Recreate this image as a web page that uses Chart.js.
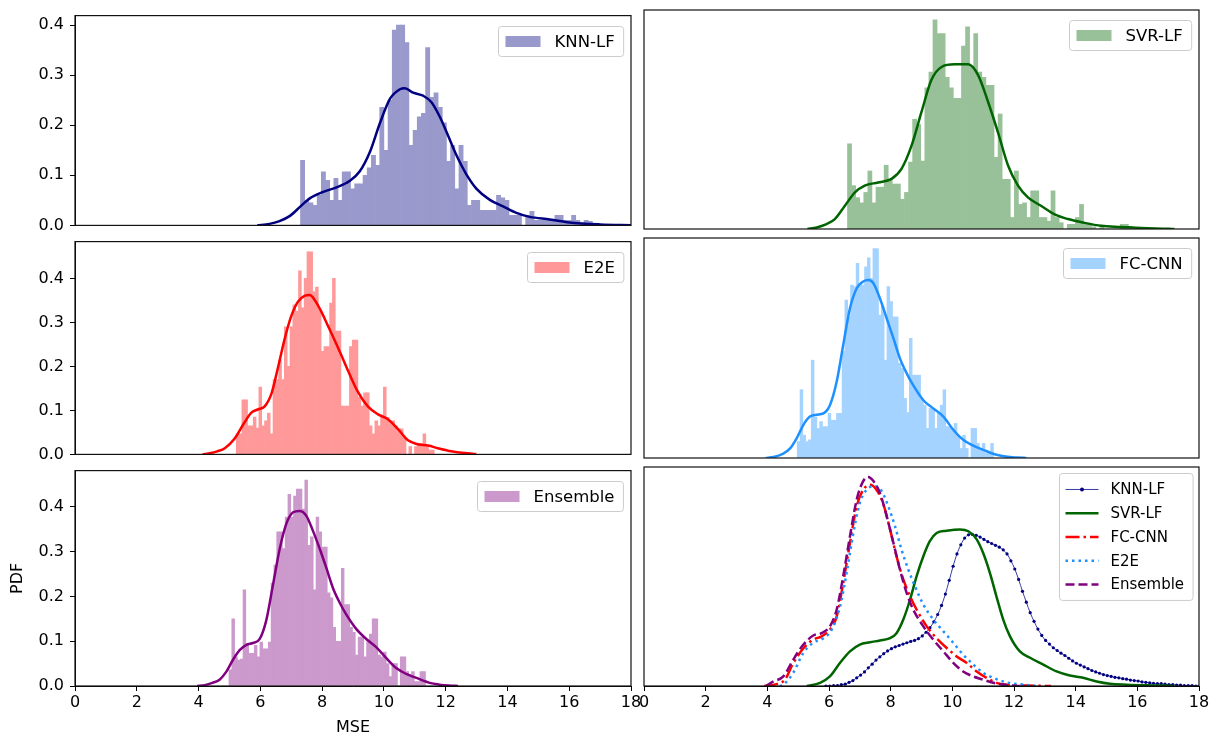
<!DOCTYPE html>
<html>
<head>
<meta charset="utf-8">
<script src="https://cdn.jsdelivr.net/npm/chart.js@4.4.1/dist/chart.umd.min.js"></script>
<style>
  html, body { margin:0; padding:0; background:#ffffff; }
  #fig { position:relative; width:1213px; height:737px; overflow:hidden; background:#fff; }
  #fig canvas { position:absolute; }
</style>
</head>
<body>
<div id="fig">
  <canvas id="cKnn" width="645" height="241" style="left:0px;top:0px"></canvas>
  <canvas id="cSvr" width="583" height="241" style="left:630px;top:0px"></canvas>
  <canvas id="cE2e" width="645" height="244" style="left:0px;top:226px"></canvas>
  <canvas id="cFc" width="583" height="244" style="left:630px;top:226px"></canvas>
  <canvas id="cEns" width="645" height="282" style="left:0px;top:455px"></canvas>
  <canvas id="cAll" width="583" height="282" style="left:630px;top:455px"></canvas>
</div>
<script>
// ---------------- DATA ----------------
const xTickValues = [0, 2, 4, 6, 8, 10, 12, 14, 16, 18];
const xTickLabels = ['0', '2', '4', '6', '8', '10', '12', '14', '16', '18'];
const yTickValues = [0, 0.1, 0.2, 0.3, 0.4];
const yTickLabels = ['0.0', '0.1', '0.2', '0.3', '0.4'];
const seriesNames = ['KNN-LF', 'SVR-LF', 'E2E', 'FC-CNN', 'Ensemble'];

// histograms (density per bin), 70 bins each
const knnBinStart = 7.3, knnBinWidth = 0.135;
const knnHist = [0.13, 0.05, 0.045, 0.04, 0.06, 0.107, 0.09, 0.05, 0.094, 0.05,
  0.107, 0.107, 0.073, 0.083, 0.083, 0.1, 0.115, 0.14, 0.12, 0.236,
  0.15, 0.25, 0.39, 0.4, 0.4, 0.365, 0.16, 0.19, 0.217, 0.224,
  0.355, 0.256, 0.265, 0.236, 0.205, 0.128, 0.16, 0.073, 0.16, 0.128,
  0.04, 0.05, 0.05, 0.03, 0.03, 0.03, 0.03, 0.06, 0.055, 0.05,
  0.02, 0.02, 0.02, 0, 0.02, 0.028, 0.01, 0.01, 0.01, 0.01,
  0.01, 0.02, 0.02, 0.01, 0.01, 0.02, 0.01, 0.005, 0.01, 0.008];

const svrBinStart = 6.6, svrBinWidth = 0.132;
const svrHist = [0.163, 0.083, 0.06, 0.05, 0.07, 0.111, 0.05, 0.08, 0.08, 0.122,
  0.095, 0.086, 0.086, 0.057, 0.07, 0.128, 0.21, 0.2, 0.13, 0.27,
  0.3, 0.4, 0.374, 0.374, 0.29, 0.27, 0.25, 0.25, 0.35, 0.387,
  0.31, 0.374, 0.3, 0.29, 0.275, 0.275, 0.137, 0.22, 0.095, 0.095,
  0.022, 0.111, 0.047, 0.05, 0.022, 0.073, 0.073, 0.022, 0.022, 0.015,
  0.073, 0.022, 0.012, 0, 0.009, 0.009, 0.022, 0.047, 0.009, 0.009,
  0.004, 0, 0.004, 0, 0, 0, 0, 0.009, 0.009, 0.005];

const e2eBinStart = 5.22, e2eBinWidth = 0.0916;
const e2eHist = [0.047, 0.047, 0.124, 0.124, 0.065, 0.065, 0.085, 0.06, 0.153, 0.065,
  0.076, 0.094, 0.047, 0.17, 0.17, 0.215, 0.17, 0.29, 0.2, 0.29,
  0.34, 0.325, 0.417, 0.333, 0.4, 0.46, 0.46, 0.37, 0.38, 0.33,
  0.234, 0.245, 0.245, 0.344, 0.4, 0.28, 0.28, 0.11, 0.11, 0.11,
  0.245, 0.26, 0.26, 0.13, 0.11, 0.14, 0.14, 0.065, 0.047, 0.076,
  0.065, 0.09, 0.153, 0.084, 0.076, 0.076, 0.065, 0.058, 0.058, 0.04,
  0, 0.018, 0, 0.018, 0.025, 0.025, 0.047, 0.018, 0.01, 0.01];

const fcBinStart = 4.97, fcBinWidth = 0.0909;
const fcHist = [0.036, 0.15, 0.05, 0.036, 0.04, 0.215, 0.09, 0.065, 0.08, 0.069,
  0.069, 0.098, 0.083, 0.083, 0.098, 0.098, 0.234, 0.347, 0.31, 0.38,
  0.377, 0.428, 0.38, 0.38, 0.42, 0.44, 0.395, 0.46, 0.46, 0.314,
  0.333, 0.215, 0.377, 0.344, 0.31, 0.31, 0.208, 0.197, 0.131, 0.1,
  0.263, 0.182, 0.182, 0.182, 0.131, 0.116, 0.065, 0.109, 0.109, 0.065,
  0.098, 0.116, 0.15, 0.069, 0.069, 0.065, 0.076, 0.05, 0.021, 0.05,
  0.021, 0, 0.065, 0.065, 0.032, 0.021, 0.032, 0.01, 0.01, 0.032];

const ensBinStart = 4.985, ensBinWidth = 0.0909;
const ensHist = [0.036, 0.15, 0.065, 0.058, 0.06, 0.215, 0.095, 0.073, 0.073, 0.091,
  0.065, 0.098, 0.083, 0.083, 0.098, 0.23, 0.27, 0.344, 0.344, 0.307,
  0.377, 0.428, 0.377, 0.424, 0.44, 0.44, 0.395, 0.46, 0.314, 0.333,
  0.215, 0.377, 0.344, 0.31, 0.31, 0.208, 0.197, 0.131, 0.1, 0.1,
  0.263, 0.182, 0.182, 0.131, 0.12, 0.069, 0.109, 0.109, 0.065, 0.098,
  0.116, 0.15, 0.15, 0.069, 0.065, 0.076, 0.05, 0.021, 0.05, 0.05,
  0, 0.065, 0.065, 0.032, 0.021, 0.032, 0.01, 0.01, 0.032, 0.032];

// KDE curves in the histogram panels
const knnKdeX = [5.9, 6.3, 6.6, 6.96, 7.3, 7.6, 8.04, 8.47, 8.9, 9.22, 9.55, 9.87, 10.2, 10.52, 10.68, 10.95, 11.27, 11.54, 11.81, 12.08, 12.35, 12.67, 13.0, 13.43, 13.86, 14.29, 14.72, 15.37, 16.0, 17.0, 18.0];
const knnKdeY = [0, 0.003, 0.008, 0.019, 0.038, 0.054, 0.067, 0.076, 0.089, 0.108, 0.147, 0.204, 0.253, 0.272, 0.274, 0.265, 0.259, 0.246, 0.217, 0.179, 0.14, 0.102, 0.073, 0.051, 0.038, 0.025, 0.017, 0.012, 0.006, 0.002, 0.0005];

const svrKdeX = [5.3, 5.6, 5.9, 6.19, 6.51, 6.84, 7.16, 7.59, 8.03, 8.35, 8.68, 9.0, 9.32, 9.65, 10.08, 10.51, 10.84, 11.16, 11.48, 11.81, 12.13, 12.46, 12.89, 13.32, 13.75, 14.19, 14.83, 15.48, 16.13, 17.0, 17.2];
const svrKdeY = [0, 0.003, 0.009, 0.019, 0.044, 0.07, 0.083, 0.089, 0.096, 0.115, 0.16, 0.224, 0.285, 0.31, 0.315, 0.315, 0.294, 0.243, 0.185, 0.121, 0.083, 0.06, 0.044, 0.028, 0.019, 0.013, 0.006, 0.004, 0.002, 0.0005, 0];

const e2eKdeX = [4.13, 4.4, 4.6, 4.85, 5.17, 5.49, 5.71, 5.92, 6.14, 6.36, 6.57, 6.79, 7.0, 7.22, 7.43, 7.6, 7.76, 7.97, 8.19, 8.41, 8.62, 8.84, 9.16, 9.48, 9.81, 10.13, 10.45, 10.78, 11.1, 11.43, 11.75, 12.18, 12.61, 12.99];
const e2eKdeY = [0, 0.003, 0.007, 0.014, 0.036, 0.073, 0.095, 0.102, 0.109, 0.138, 0.197, 0.263, 0.314, 0.347, 0.36, 0.362, 0.351, 0.325, 0.292, 0.259, 0.226, 0.19, 0.142, 0.109, 0.091, 0.08, 0.058, 0.032, 0.023, 0.02, 0.014, 0.007, 0.003, 0.001];

const fcKdeX = [3.95, 4.2, 4.5, 4.74, 4.95, 5.17, 5.38, 5.6, 5.82, 6.03, 6.25, 6.46, 6.68, 6.9, 7.11, 7.28, 7.44, 7.65, 7.87, 8.09, 8.3, 8.52, 8.73, 9.06, 9.38, 9.71, 10.03, 10.35, 10.68, 11.0, 11.43, 11.87, 12.1, 12.4];
const fcKdeY = [0, 0.002, 0.009, 0.021, 0.043, 0.073, 0.091, 0.095, 0.098, 0.116, 0.168, 0.248, 0.329, 0.373, 0.388, 0.391, 0.384, 0.351, 0.307, 0.263, 0.219, 0.186, 0.16, 0.127, 0.109, 0.091, 0.062, 0.04, 0.027, 0.018, 0.007, 0.002, 0.001, 0];

const ensKdeX = [3.95, 4.2, 4.45, 4.68, 4.9, 5.11, 5.33, 5.55, 5.76, 5.98, 6.19, 6.41, 6.63, 6.84, 7.06, 7.27, 7.49, 7.7, 7.92, 8.14, 8.35, 8.57, 8.78, 9.11, 9.43, 9.75, 10.08, 10.4, 10.72, 11.05, 11.48, 11.8, 12.1, 12.4];
const ensKdeY = [0, 0.002, 0.007, 0.014, 0.032, 0.058, 0.08, 0.092, 0.096, 0.105, 0.146, 0.226, 0.307, 0.362, 0.388, 0.391, 0.38, 0.347, 0.307, 0.263, 0.219, 0.186, 0.16, 0.127, 0.105, 0.087, 0.062, 0.04, 0.027, 0.018, 0.007, 0.003, 0.001, 0];

// Combined KDE panel (bottom right)
const knnAllStart = 5.9, knnAllStep = 0.125;
const knnAllY = [0, 0, 0.001, 0.001, 0.003, 0.004, 0.008, 0.012, 0.018, 0.024,
  0.031, 0.04, 0.048, 0.057, 0.064, 0.071, 0.077, 0.082, 0.086, 0.089,
  0.092, 0.095, 0.098, 0.1, 0.104, 0.11, 0.118, 0.128, 0.141, 0.157,
  0.177, 0.202, 0.232, 0.263, 0.29, 0.31, 0.325, 0.332, 0.333, 0.331,
  0.327, 0.322, 0.317, 0.313, 0.309, 0.305, 0.299, 0.29, 0.275, 0.257,
  0.234, 0.208, 0.184, 0.161, 0.142, 0.125, 0.111, 0.1, 0.092, 0.084,
  0.078, 0.072, 0.067, 0.061, 0.055, 0.05, 0.046, 0.042, 0.038, 0.034,
  0.031, 0.028, 0.025, 0.023, 0.021, 0.019, 0.018, 0.016, 0.015, 0.013,
  0.012, 0.011, 0.009, 0.008, 0.007, 0.006, 0.005, 0.005, 0.004, 0.003,
  0.003, 0.002, 0.002, 0.001, 0.001, 0.001, 0, 0];

const svrAllX = [5.28, 5.71, 6.03, 6.36, 6.68, 7.0, 7.33, 7.65, 7.98, 8.19, 8.41, 8.63, 8.84, 9.06, 9.27, 9.49, 9.81, 10.25, 10.52, 10.79, 11.0, 11.22, 11.43, 11.65, 11.87, 12.19, 12.52, 12.95, 13.38, 13.81, 14.24, 14.68, 15.11, 15.65, 16.73, 17.2];
const svrAllY = [0, 0.007, 0.021, 0.051, 0.076, 0.091, 0.096, 0.1, 0.105, 0.116, 0.146, 0.19, 0.241, 0.285, 0.318, 0.336, 0.341, 0.344, 0.34, 0.322, 0.292, 0.248, 0.197, 0.146, 0.109, 0.076, 0.062, 0.047, 0.032, 0.023, 0.018, 0.01, 0.005, 0.003, 0.001, 0];

const fcAllX = [3.9, 4.3, 4.57, 4.84, 5.17, 5.49, 5.76, 6.03, 6.25, 6.46, 6.68, 6.9, 7.11, 7.33, 7.54, 7.76, 7.98, 8.19, 8.41, 8.63, 8.84, 9.17, 9.49, 9.81, 10.14, 10.46, 10.79, 11.11, 11.43, 11.76, 12.41, 13.2];
const fcAllY = [0, 0.004, 0.014, 0.05, 0.083, 0.102, 0.109, 0.124, 0.153, 0.226, 0.314, 0.395, 0.431, 0.442, 0.431, 0.4, 0.344, 0.285, 0.234, 0.197, 0.168, 0.131, 0.105, 0.084, 0.065, 0.051, 0.032, 0.018, 0.007, 0.003, 0.001, 0];

const e2eAllX = [4.4, 4.52, 4.84, 5.17, 5.49, 5.82, 6.09, 6.36, 6.57, 6.79, 7.0, 7.22, 7.49, 7.71, 7.92, 8.14, 8.35, 8.57, 8.79, 9.06, 9.38, 9.71, 10.03, 10.35, 10.68, 11.0, 11.33, 11.76, 12.3, 12.73];
const e2eAllY = [0, 0.003, 0.029, 0.073, 0.095, 0.105, 0.124, 0.175, 0.248, 0.336, 0.402, 0.431, 0.439, 0.428, 0.395, 0.351, 0.3, 0.256, 0.219, 0.179, 0.146, 0.12, 0.095, 0.069, 0.047, 0.029, 0.018, 0.008, 0.003, 0];

const ensAllX = [3.95, 4.2, 4.52, 4.84, 5.17, 5.49, 5.76, 6.03, 6.25, 6.46, 6.68, 6.9, 7.11, 7.27, 7.44, 7.65, 7.87, 8.09, 8.3, 8.52, 8.73, 9.06, 9.38, 9.71, 10.03, 10.35, 10.68, 11.0, 11.33, 11.76, 12.19];
const ensAllY = [0, 0.01, 0.021, 0.058, 0.091, 0.111, 0.116, 0.131, 0.168, 0.241, 0.329, 0.41, 0.45, 0.459, 0.45, 0.424, 0.373, 0.314, 0.256, 0.204, 0.168, 0.131, 0.102, 0.076, 0.051, 0.032, 0.021, 0.014, 0.007, 0.002, 0];

// ---------------- HELPERS ----------------
const FONT = '"DejaVu Sans", sans-serif';
Chart.defaults.font.family = FONT;
Chart.defaults.color = '#000';
Chart.defaults.animation = false;

function binPoints(start, width, heights) {
  return heights.map((h, i) => ({ x: start + width * (i + 0.5), y: h }));
}
function curvePoints(xs, ys) {
  return xs.map((x, i) => ({ x: x, y: ys[i] }));
}
function gridPoints(start, step, ys) {
  return ys.map((y, i) => ({ x: start + step * i, y: y }));
}

function roundRectPath(ctx, x, y, w, h, r) {
  ctx.beginPath();
  ctx.moveTo(x + r, y);
  ctx.lineTo(x + w - r, y); ctx.arcTo(x + w, y, x + w, y + r, r);
  ctx.lineTo(x + w, y + h - r); ctx.arcTo(x + w, y + h, x + w - r, y + h, r);
  ctx.lineTo(x + r, y + h); ctx.arcTo(x, y + h, x, y + h - r, r);
  ctx.lineTo(x, y + r); ctx.arcTo(x, y, x + r, y, r);
  ctx.closePath();
}

const framePlugin = {
  id: 'axesFrame',
  afterDatasetsDraw(chart) {
    const ctx = chart.ctx, a = chart.chartArea;
    ctx.save();
    ctx.strokeStyle = '#111';
    ctx.lineWidth = 1.2;
    ctx.strokeRect(a.left, a.top, a.right - a.left, a.bottom - a.top);
    ctx.restore();
  }
};

const boxLegendPlugin = {
  id: 'boxLegend',
  afterDraw(chart, args, o) {
    if (!o || !o.show) return;
    const ctx = chart.ctx, a = chart.chartArea;
    const items = chart.data.datasets.filter(d => d.inLegend);
    ctx.save();
    ctx.font = o.fontSize + 'px ' + FONT;
    let tw = 0;
    items.forEach(d => { tw = Math.max(tw, ctx.measureText(d.label).width); });
    const w = o.padL + o.handleW + o.gap + tw + o.padR;
    const h = 2 * o.padT + o.rowH * items.length;
    const x0 = Math.round(a.right - o.insetR - w) + 0.5, y0 = Math.round(a.top + o.insetT) + 0.5;
    roundRectPath(ctx, x0, y0, w, h, o.radius);
    ctx.fillStyle = 'rgba(255,255,255,0.8)'; ctx.fill();
    ctx.lineWidth = 1; ctx.strokeStyle = '#cccccc'; ctx.stroke();
    items.forEach((d, i) => {
      const cy = y0 + o.padT + o.rowH * (i + 0.5);
      const hx = x0 + o.padL;
      if (d.type === 'bar') {
        ctx.fillStyle = d.backgroundColor;
        ctx.fillRect(hx, cy - o.handleH / 2, o.handleW, o.handleH);
      } else {
        ctx.save();
        ctx.strokeStyle = d.borderColor; ctx.lineWidth = d.borderWidth;
        ctx.setLineDash(d.borderDash || []);
        ctx.beginPath(); ctx.moveTo(hx, cy); ctx.lineTo(hx + o.handleW, cy); ctx.stroke();
        ctx.restore();
        if (d.pointRadius > 0) {
          ctx.fillStyle = d.pointBackgroundColor;
          ctx.beginPath(); ctx.arc(hx + o.handleW / 2, cy, d.pointRadius + 0.4, 0, Math.PI * 2); ctx.fill();
        }
      }
      ctx.fillStyle = '#000'; ctx.textAlign = 'left'; ctx.textBaseline = 'middle';
      ctx.fillText(d.label, hx + o.handleW + o.gap, cy + 1);
    });
    ctx.restore();
  }
};
Chart.register(framePlugin, boxLegendPlugin);

const histLegend = { show: true, fontSize: 16.5, insetR: 8, insetT: 10, padL: 7, handleW: 35, handleH: 11, gap: 14, padR: 9, padT: 0, rowH: 30, radius: 3 };
const lineLegend = { show: true, fontSize: 15, insetR: 6, insetT: 6, padL: 6, handleW: 33, handleH: 0, gap: 12, padR: 9, padT: 4.1, rowH: 23.75, radius: 3 };

function xScale(show, title) {
  const s = { type: 'linear', min: 0, max: 18, offset: false, display: show, grid: { offset: false } };
  if (show) {
    Object.assign(s, {
      afterBuildTicks: sc => { sc.ticks = xTickValues.map(v => ({ value: v })); },
      ticks: { callback: (v, i) => xTickLabels[i], font: { size: 16 }, color: '#000', padding: 2, maxRotation: 0, autoSkip: false },
      grid: { display: true, drawOnChartArea: false, drawTicks: true, tickLength: 5, color: '#000', offset: false },
      border: { display: true, color: '#000' },
      title: title ? { display: true, text: title, font: { size: 16 }, color: '#000', padding: { top: 0, bottom: 0 } } : { display: false },
      afterFit: sc => { sc.height = 51; }
    });
  }
  return s;
}
function yScale(show, yMax, title) {
  const s = { type: 'linear', min: 0, max: yMax, display: show };
  if (show) {
    Object.assign(s, {
      afterBuildTicks: sc => { sc.ticks = yTickValues.map(v => ({ value: v })); },
      ticks: { callback: (v, i) => yTickLabels[i], font: { size: 16 }, color: '#000', padding: 6 },
      grid: { display: true, drawOnChartArea: false, drawTicks: true, tickLength: 5, color: '#000' },
      border: { display: true, color: '#000' },
      title: title ? { display: true, text: title, font: { size: 16 }, color: '#000', padding: { top: 8, bottom: 0 } } : { display: false },
      afterFit: sc => { sc.width = 75; }
    });
  }
  return s;
}

const rowPad = [{ top: 10, bottom: 12 }, { top: 12, bottom: 12 }, { top: 12, bottom: 0 }];
const rowMax = [0.419, 0.4835, 0.481];
const colPad = [{ left: 0, right: 14 }, { left: 14, right: 14 }];

function makeHist(id, row, col, name, hist, kde, fill, line, xTitle, yTitle) {
  new Chart(document.getElementById(id), {
    type: 'bar',
    data: {
      datasets: [
        { type: 'line', label: name + ' KDE', data: kde, borderColor: line, borderWidth: 2.5,
          pointRadius: 0, cubicInterpolationMode: 'monotone', fill: false, order: 1 },
        { type: 'bar', label: name, data: hist, backgroundColor: fill, borderWidth: 0,
          barPercentage: 1, categoryPercentage: 1, order: 2, inLegend: true }
      ]
    },
    options: {
      responsive: false, animation: false, events: [],
      layout: { padding: { left: colPad[col].left, right: colPad[col].right, top: rowPad[row].top, bottom: rowPad[row].bottom } },
      scales: { x: xScale(row === 2, xTitle), y: yScale(col === 0, rowMax[row], yTitle) },
      plugins: { legend: { display: false }, tooltip: { enabled: false }, boxLegend: histLegend }
    }
  });
}

makeHist('cKnn', 0, 0, seriesNames[0], binPoints(knnBinStart, knnBinWidth, knnHist), curvePoints(knnKdeX, knnKdeY), '#9999cc', '#000080', null, null);
makeHist('cSvr', 0, 1, seriesNames[1], binPoints(svrBinStart, svrBinWidth, svrHist), curvePoints(svrKdeX, svrKdeY), '#99c199', '#006400', null, null);
makeHist('cE2e', 1, 0, seriesNames[2], binPoints(e2eBinStart, e2eBinWidth, e2eHist), curvePoints(e2eKdeX, e2eKdeY), '#ff9999', '#ff0000', null, null);
makeHist('cFc', 1, 1, seriesNames[3], binPoints(fcBinStart, fcBinWidth, fcHist), curvePoints(fcKdeX, fcKdeY), '#a5d3ff', '#1e90ff', null, null);
makeHist('cEns', 2, 0, seriesNames[4], binPoints(ensBinStart, ensBinWidth, ensHist), curvePoints(ensKdeX, ensKdeY), '#cc99cc', '#800080', 'MSE', 'PDF');

// combined KDE panel
new Chart(document.getElementById('cAll'), {
  type: 'line',
  data: {
    datasets: [
      { label: 'KNN-LF', data: gridPoints(knnAllStart, knnAllStep, knnAllY), borderColor: '#3a3aa8', borderWidth: 1,
        pointRadius: 1.6, pointBackgroundColor: '#000080', pointBorderWidth: 0, cubicInterpolationMode: 'monotone', order: 5, inLegend: true },
      { label: 'SVR-LF', data: curvePoints(svrAllX, svrAllY), borderColor: '#006400', borderWidth: 2.5,
        pointRadius: 0, cubicInterpolationMode: 'monotone', order: 4, inLegend: true },
      { label: 'FC-CNN', data: curvePoints(fcAllX, fcAllY), borderColor: '#ff0000', borderWidth: 2.5, borderDash: [14, 4, 2.5, 4],
        pointRadius: 0, cubicInterpolationMode: 'monotone', order: 3, inLegend: true },
      { label: 'E2E', data: curvePoints(e2eAllX, e2eAllY), borderColor: '#1e90ff', borderWidth: 2.5, borderDash: [2.5, 4],
        pointRadius: 0, cubicInterpolationMode: 'monotone', order: 2, inLegend: true },
      { label: 'Ensemble', data: curvePoints(ensAllX, ensAllY), borderColor: '#800080', borderWidth: 2.5, borderDash: [9, 4],
        pointRadius: 0, cubicInterpolationMode: 'monotone', order: 1, inLegend: true }
    ]
  },
  options: {
    responsive: false, animation: false, events: [],
    layout: { padding: { left: colPad[1].left, right: colPad[1].right, top: rowPad[2].top, bottom: rowPad[2].bottom } },
    scales: { x: xScale(true, null), y: yScale(false, rowMax[2], null) },
    plugins: { legend: { display: false }, tooltip: { enabled: false }, boxLegend: lineLegend }
  }
});
</script>
</body>
</html>
